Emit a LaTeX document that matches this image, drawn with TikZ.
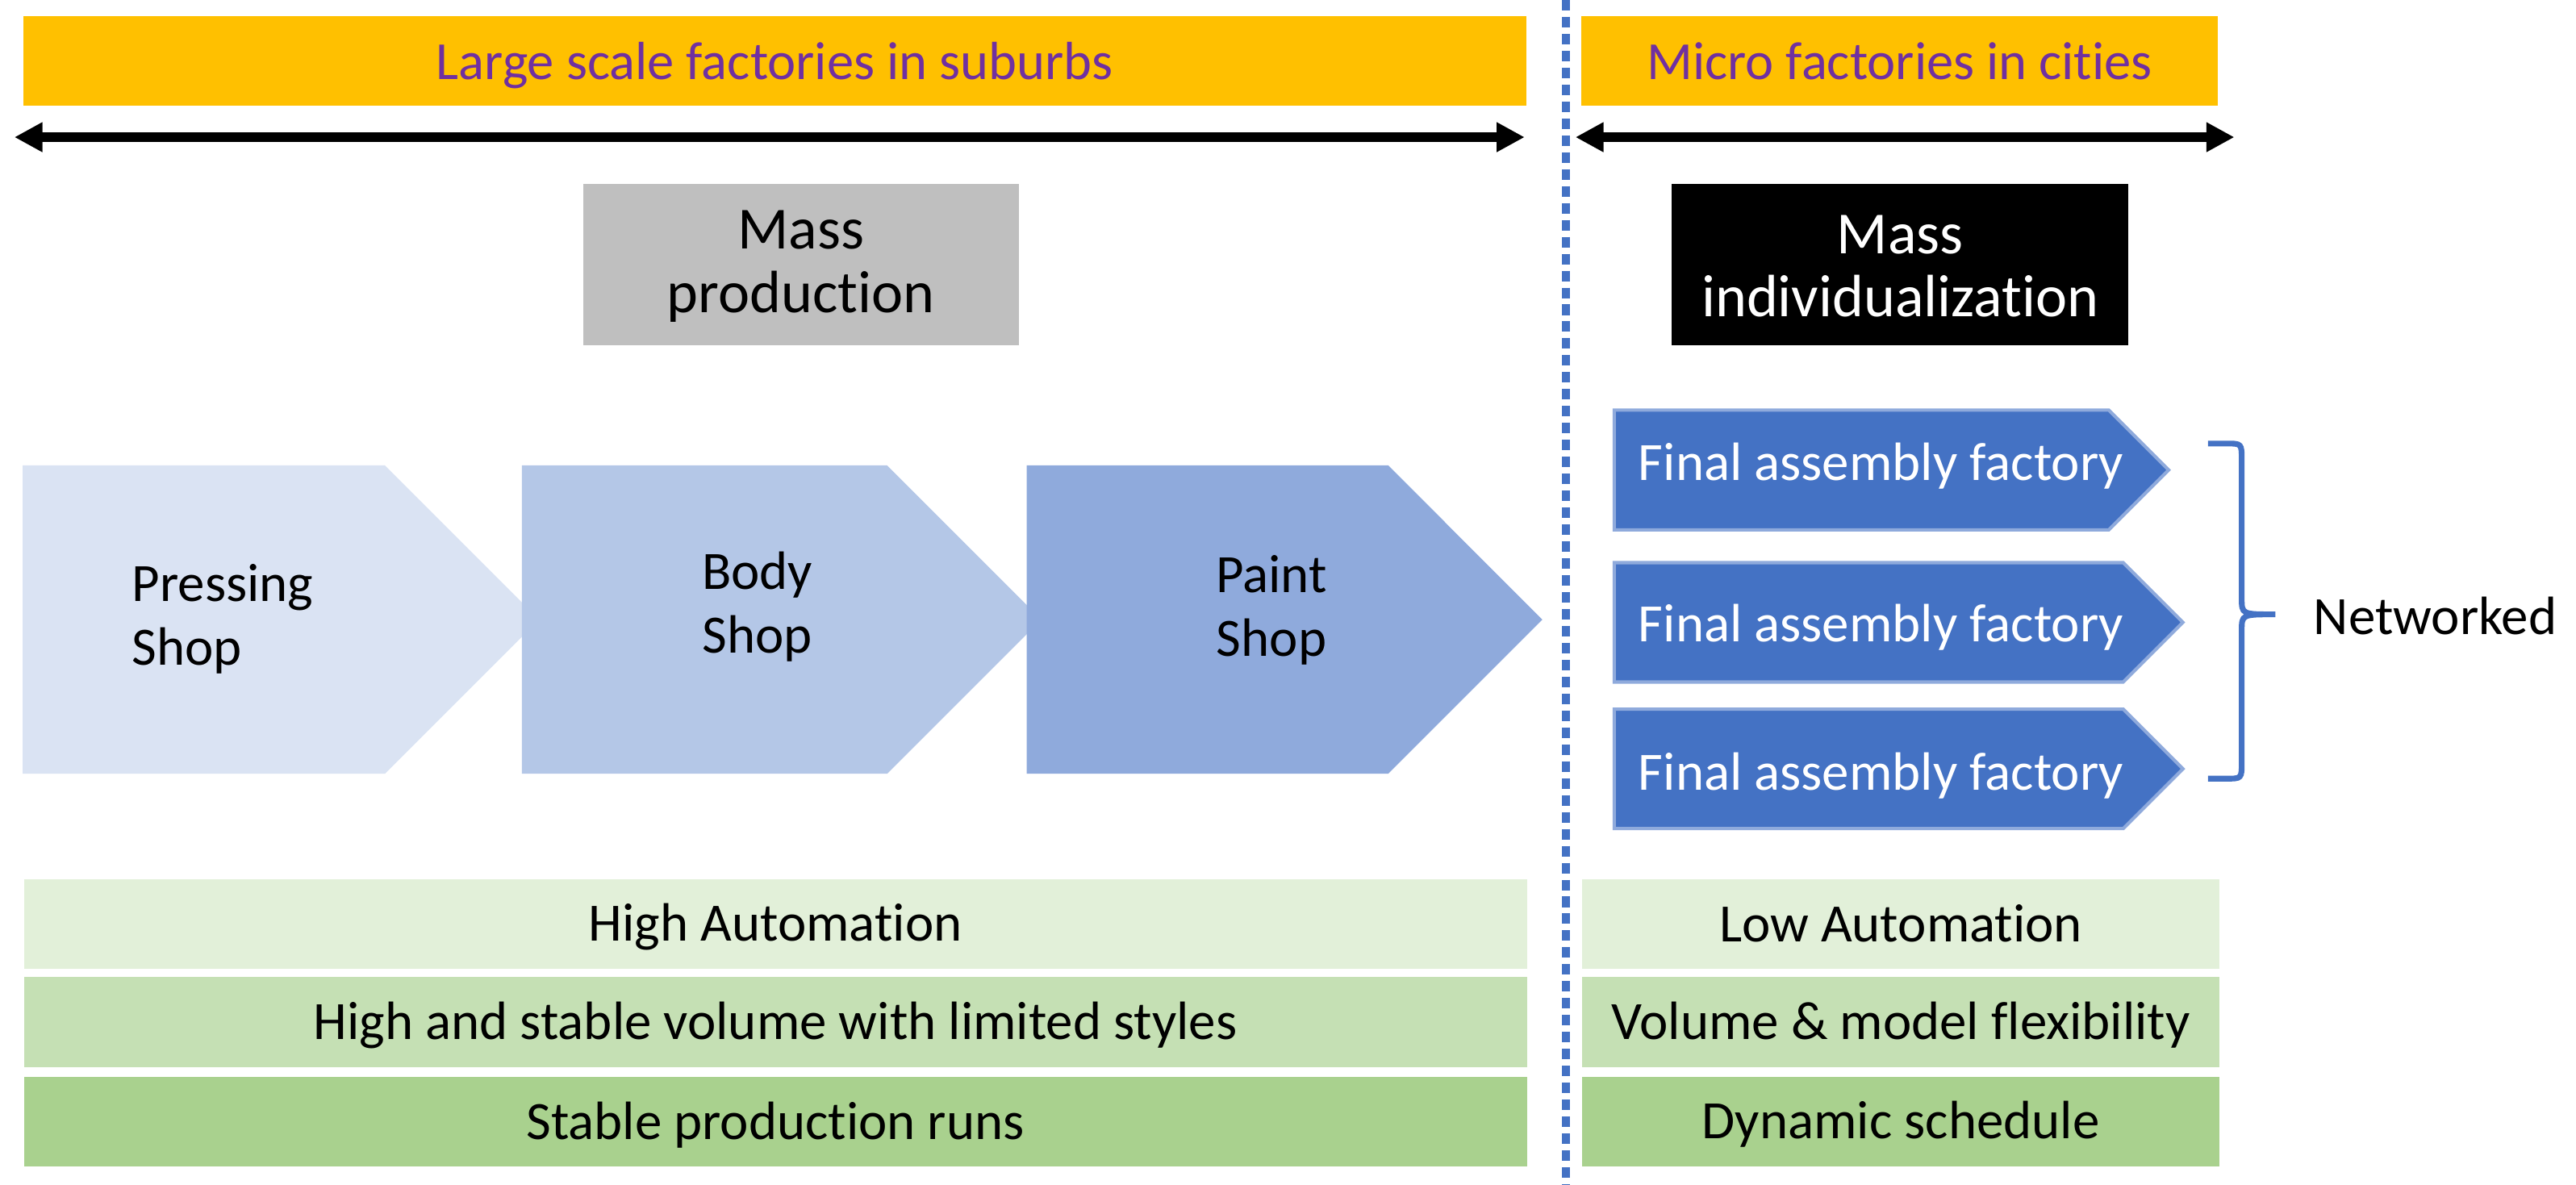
\documentclass[tikz,border=0pt]{standalone}
\usepackage{fontspec}
\setmainfont{Carlito}[Ligatures=NoCommon]
\usetikzlibrary{arrows.meta}
\definecolor{barorange}{HTML}{FFC000}
\definecolor{barpurple}{HTML}{7030A0}
\definecolor{massgray}{HTML}{BFBFBF}
\definecolor{shopone}{HTML}{DAE3F3}
\definecolor{shoptwo}{HTML}{B4C7E7}
\definecolor{shopthree}{HTML}{8FAADC}
\definecolor{accentblue}{HTML}{4472C4}
\definecolor{greenone}{HTML}{E2F0D9}
\definecolor{greentwo}{HTML}{C5E0B4}
\definecolor{greenthree}{HTML}{A9D18E}
\tikzset{
  every picture/.style={line join=miter, >=Stealth},
  bartext/.style={text=barpurple, font=\fontsize{18.6}{22}\selectfont},
  shoptext/.style={font=\fontsize{18.7}{22.1}\selectfont, align=center, inner sep=0pt},
  masstext/.style={font=\fontsize{20.7}{22}\selectfont, align=center, inner sep=0pt},
  dblarrow/.style={line width=0.12cm, {Triangle[length=0.34cm,width=0.34cm]}-{Triangle[length=0.34cm,width=0.34cm]}},
  divider/.style={accentblue, line width=0.1cm, dash pattern=on 0.128cm off 0.078cm},
  factory/.style={fill=accentblue, draw=shopthree, line width=0.04cm},
  bracket/.style={accentblue, line width=0.07cm},
}

\begin{document}
\begin{tikzpicture}[x=0.02cm,y=-0.02cm]
\useasboundingbox (0,0) rectangle (1568,721);
\fill[barorange] (14,9.8) rectangle (929,64.2);
\fill[barorange] (962.6,9.8) rectangle (1350,64.2);
\node[bartext,anchor=base] (suburbs) at (471.5,48.3) {Large scale factories in suburbs};
\node[bartext,anchor=base] (cities) at (1156.3,48.3) {Micro factories in cities};
\coordinate (lsleft) at (8.8,83.5);
\coordinate (lsright) at (928,83.5);
\coordinate (mfleft) at (959,83.5);
\coordinate (mfright) at (1360,83.5);
\draw[dblarrow] (lsleft) -- (lsright);
\draw[dblarrow] (mfleft) -- (mfright);
\coordinate (divtop) at (953,0);
\coordinate (divbot) at (953,721);
\draw[divider] (divtop) -- (divbot);
\fill[massgray] (355,112) rectangle (620,210);
\node[masstext] (massprod) at (487.5,162) {Mass\\production};
\fill (1017.6,112) rectangle (1295.6,210);
\node[masstext,text=white] (massindiv) at (1156.6,162) {Mass\\individualization};
\foreach \xa/\xb/\c in {13.8/234.3/shopone, 317.6/540/shoptwo, 625/845/shopthree}
  \fill[\c] (\xa,283.3) -- (\xb,283.3) -- ++(93.8,93.9) -- (\xb,471) -- (\xa,471) -- cycle;
\node[shoptext,anchor=west,align=left] (pressing) at (80,377) {Pressing\\Shop};
\node[shoptext] (body) at (461,369.3) {Body\\Shop};
\node[shoptext] (paint) at (774,371.3) {Paint\\Shop};
\foreach \t/\b/\s in {249.6/322.6/1283.5, 342.5/415.2/1292.4, 431.7/504.4/1292.4}
  \draw[factory] (982.6,\t) -- (\s,\t) -- ({\s+(\b-\t)/2},{(\t+\b)/2}) -- (\s,\b) -- (982.6,\b) -- cycle;
\foreach \n/\y in {1/292.5, 2/390.5, 3/481}
  \node[shoptext,text=white,anchor=base west] (final\n) at (997,\y) {Final assembly factory};
\draw[bracket] (1344,270) -- (1355,270) .. controls (1364.5,270) .. (1364.5,280) -- (1364.5,364)
  .. controls (1364.5,374) .. (1385,374) .. controls (1364.5,374) .. (1364.5,384) -- (1364.5,464)
  .. controls (1364.5,474) .. (1355,474) -- (1344,474);
\node[shoptext,anchor=base west] (networked) at (1408,386) {Networked};
\foreach \t/\b/\c in {535.4/589.7/greenone, 594.8/649.7/greentwo, 655.7/710/greenthree} {
  \fill[\c] (14.5,\t) rectangle (929.5,\b);
  \fill[\c] (963,\t) rectangle (1351,\b);
}
\node[shoptext,anchor=base] (highauto) at (472,573) {High Automation};
\node[shoptext,anchor=base] (highvol) at (472,632.8) {High and stable volume with limited styles};
\node[shoptext,anchor=base] (stableruns) at (472,693.8) {Stable production runs};
\node[shoptext,anchor=base] (lowauto) at (1157,573.3) {Low Automation};
\node[shoptext,anchor=base] (volflex) at (1157,632.8) {Volume \& model flexibility};
\node[shoptext,anchor=base] (dynsched) at (1157,692.9) {Dynamic schedule};
\end{tikzpicture}
\end{document}
